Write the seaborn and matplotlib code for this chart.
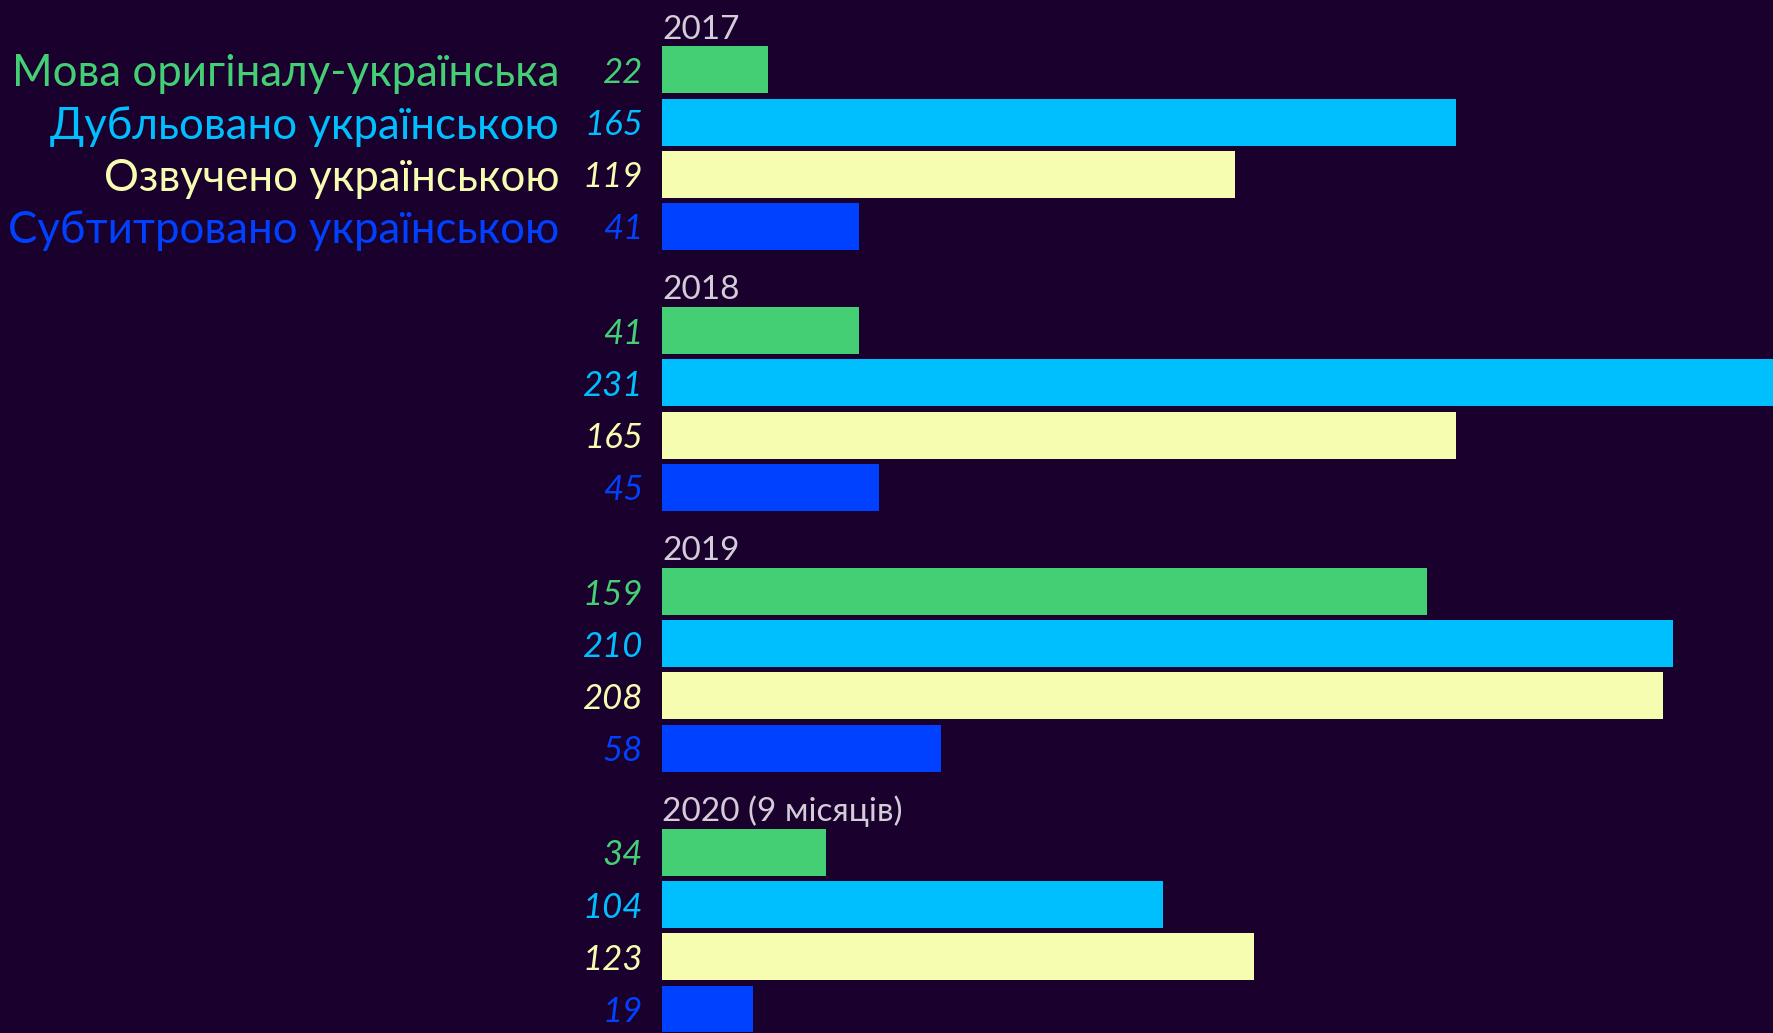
import matplotlib
matplotlib.use("Agg")
import matplotlib.pyplot as plt
import seaborn as sns
import pandas as pd

years = ["2017", "2018", "2019", "2020 (9 місяців)"]
categories = ["Мова оригіналу-українська", "Дубльовано українською",
              "Озвучено українською", "Субтитровано українською"]
v2017 = [22, 165, 119, 41]
v2018 = [41, 231, 165, 45]
v2019 = [159, 210, 208, 58]
v2020 = [34, 104, 123, 19]
values_by_year = [v2017, v2018, v2019, v2020]
colors = ["#45cf75", "#00bfff", "#f7fdb0", "#0040ff"]

BG = "#19002d"

rows = []
for g, (yr, vals) in enumerate(zip(years, values_by_year)):
    for k, (cat, v) in enumerate(zip(categories, vals)):
        rows.append({"year": yr, "category": cat, "value": v, "pos": g * 5 + k + 1})
df = pd.DataFrame(rows)

sns.set_theme(style="white")
plt.rcParams["font.family"] = ["Lato", "DejaVu Sans"]

fig = plt.figure(figsize=(17.74, 10.33), dpi=100, facecolor=BG)
ax = fig.add_axes([662 / 1774, 0, 1 - 662 / 1774, 1])
ax.set_facecolor(BG)

sns.barplot(data=df, x="value", y="pos", hue="category", orient="y",
            native_scale=True, dodge=False, width=0.9,
            palette=dict(zip(categories, colors)), hue_order=categories,
            legend=False, ax=ax, linewidth=0, saturation=1)

ax.set_xlim(0, 231)
ax.set_ylim(19.46, -0.34)
ax.axis("off")

for _, r in df.iterrows():
    k = categories.index(r["category"])
    ax.annotate(str(r["value"]), xy=(0, r["pos"]), xytext=(-13.7, 0),
                textcoords="offset points", ha="right", va="center_baseline",
                fontsize=25, style="italic", color=colors[k],
                annotation_clip=False)

for k, cat in enumerate(categories):
    ax.annotate(cat, xy=(0, k + 1), xytext=(-74, 0), textcoords="offset points",
                ha="right", va="center_baseline", fontsize=31.5, color=colors[k],
                annotation_clip=False)

for g, yr in enumerate(years):
    ax.text(0, g * 5 + 1 - 0.6, yr, ha="left", va="baseline",
            fontsize=24, color="#d4ccd8")

fig.savefig("out.png", dpi=100, facecolor=BG)
